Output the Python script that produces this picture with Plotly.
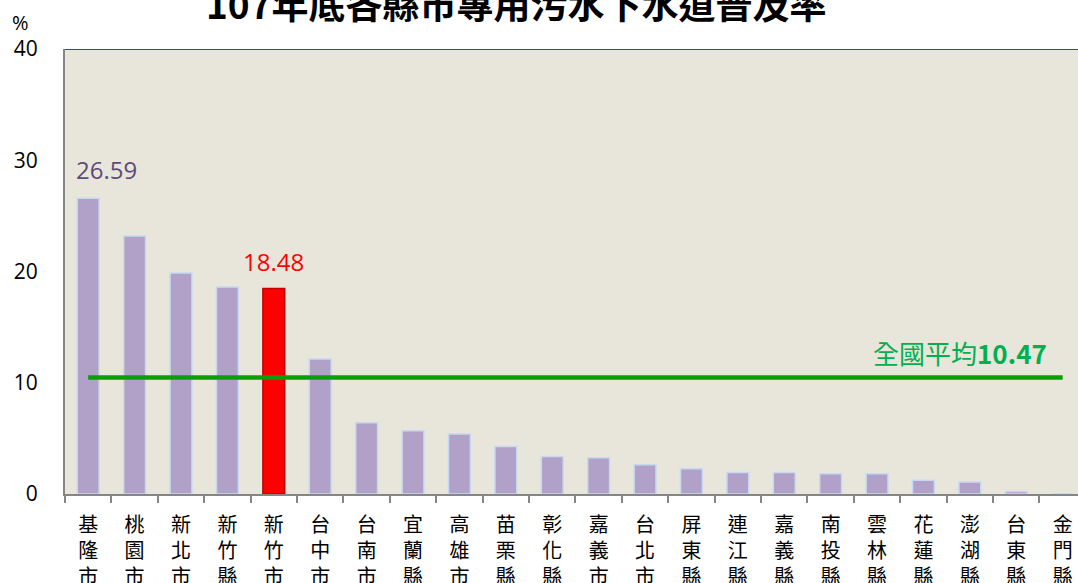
import plotly.graph_objects as go

categories = ["基隆市", "桃園市", "新北市", "新竹縣", "新竹市", "台中市", "台南市", "宜蘭縣",
              "高雄市", "苗栗縣", "彰化縣", "嘉義市", "台北市", "屏東縣", "連江縣", "嘉義縣",
              "南投縣", "雲林縣", "花蓮縣", "澎湖縣", "台東縣", "金門縣"]
values = [26.59, 23.19, 19.87, 18.60, 18.48, 12.13, 6.40, 5.68, 5.39, 4.26, 3.38, 3.25,
          2.62, 2.26, 1.93, 1.93, 1.82, 1.82, 1.23, 1.07, 0.22, 0.0]
highlight = "新竹市"
national_avg = 10.47
y_ticks = [0, 10, 20, 30, 40]
title_text = "107年底各縣市專用污水下水道普及率"

cjk = "Noto Sans CJK TC, Noto Sans CJK SC, sans-serif"
num_font = "Open Sans, Liberation Sans, sans-serif"

tick_text = ["<br>".join(list(c)) for c in categories]
colors = ["#ff0000" if c == highlight else "#b1a0c7" for c in categories]
lines = ["#c00000" if c == highlight else "#c6d9f1" for c in categories]

fig = go.Figure()
fig.add_trace(go.Bar(
    x=categories, y=values, width=0.47,
    marker=dict(color=colors, line=dict(color=lines, width=1.5)),
    hoverinfo="x+y", showlegend=False,
))
fig.add_trace(go.Scatter(
    x=[categories[0], categories[-1]], y=[national_avg, national_avg],
    mode="lines", line=dict(color="#089f08", width=4.5), showlegend=False,
))

fig.add_annotation(x=categories[0], y=values[0], text=f"{values[0]:.2f}", showarrow=False,
                   yanchor="bottom", yshift=10, xshift=18,
                   font=dict(family=num_font, size=24, color="#60497a"))
hi = categories.index(highlight)
fig.add_annotation(x=categories[hi], y=values[hi], text=f"{values[hi]:.2f}", showarrow=False,
                   yanchor="bottom", yshift=8,
                   font=dict(family=num_font, size=24, color="#ff0000"))
fig.add_annotation(x=1.0, xref="paper", xanchor="right", xshift=-29,
                   y=national_avg, yanchor="bottom", yshift=5,
                   text=f"全國平均<b>{national_avg:.2f}</b>", showarrow=False,
                   font=dict(family=cjk, size=26, color="#00b050"))
fig.add_annotation(x=0.446, xref="paper", y=1, yref="paper", yanchor="middle", yshift=46,
                   text=f"<b>{title_text}</b>", showarrow=False,
                   font=dict(family=cjk, size=37, color="#000000"))
fig.add_annotation(x=0, xref="paper", xanchor="center", xshift=-45,
                   y=1, yref="paper", yanchor="middle", yshift=27,
                   text="%", showarrow=False,
                   font=dict(family=num_font, size=20, color="#000"))

fig.add_shape(type="line", xref="paper", yref="y", x0=0, x1=1, y0=40, y1=40,
              line=dict(color="#3e5064", width=2))

fig.update_layout(
    width=1078, height=583,
    margin=dict(l=65, r=0, t=49, b=89, autoexpand=False),
    paper_bgcolor="#ffffff", plot_bgcolor="#e8e6da",
)
fig.update_xaxes(
    type="category", range=[-0.5, 21.33], automargin=False,
    tickmode="array", tickvals=categories, ticktext=tick_text,
    tickson="boundaries", ticks="outside", ticklen=7, tickcolor="#868686", tickwidth=1.5,
    showline=True, linecolor="#868686", linewidth=2, ticklabelstandoff=12,
    tickfont=dict(family=cjk, size=20, color="#000"),
    showgrid=False,
)
fig.update_yaxes(
    range=[0, 40], tickvals=y_ticks, showgrid=False, zeroline=False, automargin=False,
    showline=True, linecolor="#868686", linewidth=2,
    ticks="", ticklabelstandoff=21,
    tickfont=dict(family=num_font, size=21, color="#000"),
)

fig.write_html("out.html", config={"displayModeBar": False},
               post_script="document.body.style.margin='0';document.body.style.overflow='hidden';")
